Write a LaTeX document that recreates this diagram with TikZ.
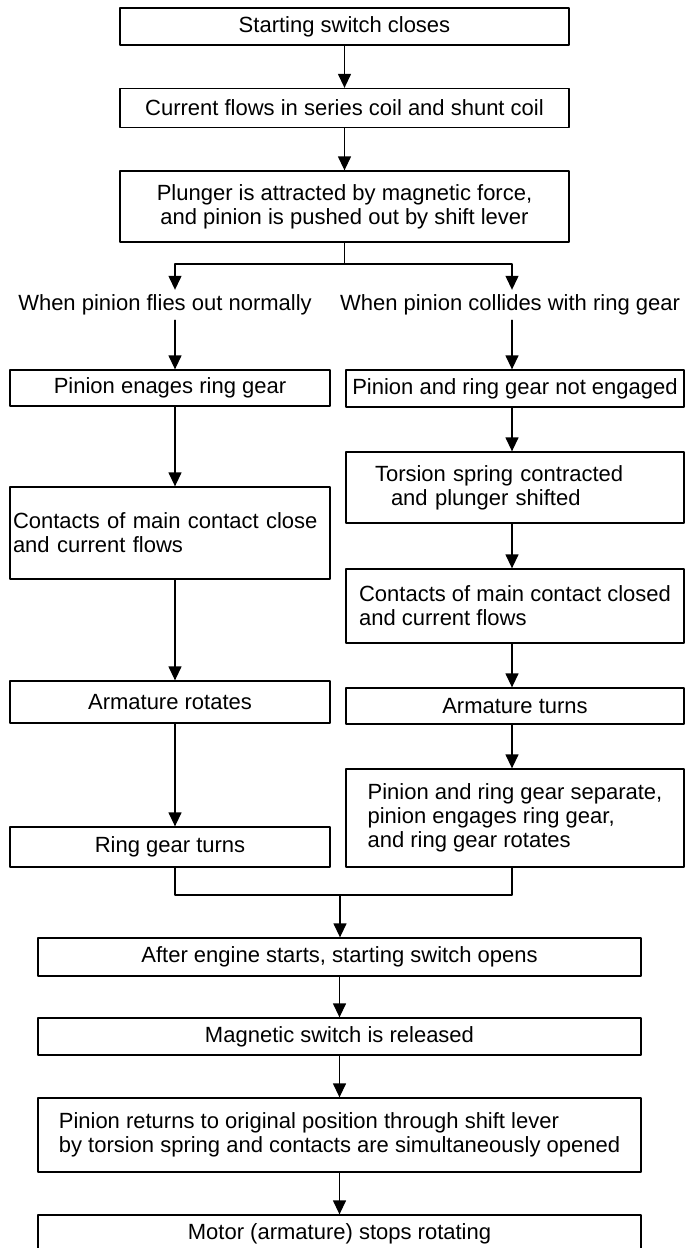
\documentclass[tikz,border=0pt]{standalone}
\usepackage{fontspec}
\setmainfont{Liberation Sans}
\usetikzlibrary{arrows.meta}

\begin{document}
\begin{tikzpicture}[
  x=1pt, y=-1pt,
  line cap=round,
  line join=round,
  every node/.style={font=\fontsize{22}{24}\selectfont},
  stepbox/.style={draw, line width=1.3pt, rectangle, inner sep=0pt, align=center},
  branchlabel/.style={inner sep=0pt, minimum height=30pt},
  connector/.style={line width=1.3pt},
  flowarrow/.style={connector, -{Triangle[width=13pt,length=14pt]}}
]
  \useasboundingbox (0,0) rectangle (686,1248);

  \coordinate (colL) at (175,0);
  \coordinate (colR) at (512,0);
  \coordinate (fork) at (344.5,264);
  \coordinate (join) at (340,895);

  \node[stepbox, minimum width=449pt, minimum height=37pt] (start) at (344.5,26.5) {Starting switch closes};
  \node[stepbox, minimum width=449pt, minimum height=39pt] (current) at (344.5,108) {Current flows in series coil and shunt coil};
  \node[stepbox, minimum width=449pt, minimum height=71pt] (plunger) at (344.5,206.5)
    {Plunger is attracted by magnetic force,\\and pinion is pushed out by shift lever};

  \node[branchlabel] (normal) at (165,305) {When pinion flies out normally};
  \node[branchlabel] (collide) at (510,305) {When pinion collides with ring gear};

  \node[stepbox, minimum width=320pt, minimum height=36pt] (engage) at (170,388) {Pinion enages ring gear};
  \node[stepbox, minimum width=320pt, minimum height=92pt, align=left, text width=314pt, inner xsep=3pt] (closeL) at (170,533)
    {Contacts of main contact close\\and current flows};
  \node[stepbox, minimum width=320pt, minimum height=42pt] (rotates) at (170,702) {Armature rotates};
  \node[stepbox, minimum width=320pt, minimum height=40pt] (ringturns) at (170,847) {Ring gear turns};

  \node[stepbox, minimum width=338pt, minimum height=37pt] (notengaged) at (515,388.5) {Pinion and ring gear not engaged};
  \node[stepbox, minimum width=338pt, minimum height=71pt, align=left, text width=280pt, inner xsep=29pt] (torsion) at (515,487.5)
    {Torsion spring contracted\\\hspace*{16pt}and plunger shifted};
  \node[stepbox, minimum width=338pt, minimum height=74pt, align=left] (closeR) at (515,606)
    {Contacts of main contact closed\\and current flows};
  \node[stepbox, minimum width=338pt, minimum height=36pt] (turns) at (515,706) {Armature turns};
  \node[stepbox, minimum width=338pt, minimum height=98pt, align=left] (separate) at (515,818)
    {Pinion and ring gear separate,\\pinion engages ring gear,\\and ring gear rotates};

  \node[stepbox, minimum width=603pt, minimum height=38pt] (after) at (339.5,957) {After engine starts, starting switch opens};
  \node[stepbox, minimum width=603pt, minimum height=37pt] (released) at (339.5,1036.5) {Magnetic switch is released};
  \node[stepbox, minimum width=603pt, minimum height=74pt, align=left] (returns) at (339.5,1135)
    {Pinion returns to original position through shift lever\\by torsion spring and contacts are simultaneously opened};
  \node[stepbox, minimum width=603pt, minimum height=37pt] (stops) at (339.5,1233.5) {Motor (armature) stops rotating};

  \draw[flowarrow] (start) -- (current);
  \draw[flowarrow] (current) -- (plunger);
  \draw[connector] (plunger) -- (fork);
  \draw[flowarrow] (fork) -| (normal.north -| colL);
  \draw[flowarrow] (fork) -| (collide.north -| colR);

  \draw[flowarrow] (normal.south -| colL) -- (engage.north -| colL);
  \draw[flowarrow] (engage.south -| colL) -- (closeL.north -| colL);
  \draw[flowarrow] (closeL.south -| colL) -- (rotates.north -| colL);
  \draw[flowarrow] (rotates.south -| colL) -- (ringturns.north -| colL);

  \draw[flowarrow] (collide.south -| colR) -- (notengaged.north -| colR);
  \draw[flowarrow] (notengaged.south -| colR) -- (torsion.north -| colR);
  \draw[flowarrow] (torsion.south -| colR) -- (closeR.north -| colR);
  \draw[flowarrow] (closeR.south -| colR) -- (turns.north -| colR);
  \draw[flowarrow] (turns.south -| colR) -- (separate.north -| colR);

  \draw[connector] (ringturns.south -| colL) |- (join) -| (separate.south -| colR);
  \draw[flowarrow] (join) -- (after.north -| join);
  \draw[flowarrow] (after) -- (released);
  \draw[flowarrow] (released) -- (returns);
  \draw[flowarrow] (returns) -- (stops);
\end{tikzpicture}
\end{document}
